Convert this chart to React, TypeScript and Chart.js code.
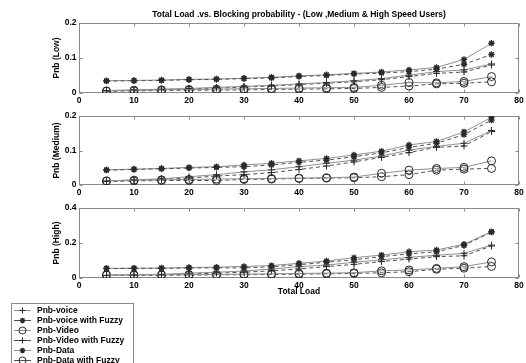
import React, { useEffect, useRef } from 'react';
import { Chart, registerables } from 'chart.js';
import { drawPoint } from 'chart.js/helpers';

Chart.register(...registerables);

// ---------- data ----------
const loads = [5, 10, 15, 20, 25, 30, 35, 40, 45, 50, 55, 60, 65, 70, 75];
const seriesNames = [
  'Pnb-voice',
  'Pnb-voice with Fuzzy',
  'Pnb-Video',
  'Pnb-Video with Fuzzy',
  'Pnb-Data',
  'Pnb-Data with Fuzzy',
];
const chartTitle = 'Total Load .vs. Blocking probability - (Low ,Medium & High Speed Users)';
const xTitle = 'Total Load';
const panelTitles = ['Pnb (Low)', 'Pnb (Medium)', 'Pnb (High)'];
const panelYMax = [0.2, 0.2, 0.4];
const panelYStep = [0.1, 0.1, 0.2];

// Low speed users
const lowVoice = [0.007, 0.009, 0.011, 0.013, 0.016, 0.019, 0.022, 0.026, 0.030, 0.035, 0.041, 0.051, 0.061, 0.066, 0.083];
const lowVoiceFuzzy = [0.034, 0.035, 0.036, 0.038, 0.039, 0.041, 0.043, 0.047, 0.050, 0.054, 0.057, 0.061, 0.068, 0.082, 0.110];
const lowVideo = [0.006, 0.008, 0.009, 0.010, 0.011, 0.012, 0.013, 0.014, 0.015, 0.016, 0.022, 0.030, 0.029, 0.033, 0.047];
const lowVideoFuzzy = [0.006, 0.008, 0.010, 0.012, 0.014, 0.017, 0.020, 0.024, 0.028, 0.032, 0.038, 0.047, 0.056, 0.060, 0.080];
const lowData = [0.035, 0.036, 0.037, 0.039, 0.040, 0.042, 0.045, 0.049, 0.052, 0.056, 0.060, 0.066, 0.073, 0.096, 0.142];
const lowDataFuzzy = [0.005, 0.006, 0.007, 0.008, 0.008, 0.009, 0.010, 0.011, 0.012, 0.013, 0.016, 0.020, 0.026, 0.028, 0.032];

// Medium speed users
const medVoice = [0.012, 0.015, 0.018, 0.024, 0.030, 0.038, 0.044, 0.053, 0.063, 0.072, 0.084, 0.101, 0.112, 0.121, 0.158];
const medVoiceFuzzy = [0.043, 0.045, 0.047, 0.049, 0.051, 0.053, 0.058, 0.066, 0.072, 0.082, 0.093, 0.109, 0.121, 0.146, 0.188];
const medVideo = [0.012, 0.014, 0.015, 0.016, 0.017, 0.018, 0.019, 0.020, 0.021, 0.023, 0.034, 0.043, 0.048, 0.051, 0.070];
const medVideoFuzzy = [0.010, 0.013, 0.016, 0.020, 0.026, 0.030, 0.036, 0.045, 0.055, 0.067, 0.080, 0.094, 0.109, 0.113, 0.155];
const medData = [0.044, 0.046, 0.048, 0.051, 0.053, 0.058, 0.063, 0.070, 0.077, 0.087, 0.098, 0.116, 0.126, 0.154, 0.196];
const medDataFuzzy = [0.011, 0.012, 0.013, 0.013, 0.013, 0.016, 0.017, 0.019, 0.020, 0.021, 0.024, 0.030, 0.043, 0.046, 0.048];

// High speed users
const highVoice = [0.015, 0.018, 0.021, 0.028, 0.033, 0.040, 0.051, 0.065, 0.074, 0.090, 0.104, 0.118, 0.130, 0.141, 0.188];
const highVoiceFuzzy = [0.054, 0.055, 0.055, 0.057, 0.058, 0.058, 0.064, 0.076, 0.090, 0.104, 0.122, 0.138, 0.150, 0.186, 0.262];
const highVideo = [0.018, 0.018, 0.019, 0.019, 0.020, 0.022, 0.024, 0.026, 0.028, 0.030, 0.041, 0.046, 0.055, 0.065, 0.092];
const highVideoFuzzy = [0.014, 0.016, 0.018, 0.022, 0.028, 0.033, 0.041, 0.052, 0.065, 0.078, 0.094, 0.108, 0.122, 0.127, 0.183];
const highData = [0.055, 0.056, 0.057, 0.060, 0.062, 0.066, 0.071, 0.084, 0.097, 0.116, 0.131, 0.150, 0.160, 0.193, 0.265];
const highDataFuzzy = [0.016, 0.016, 0.016, 0.017, 0.018, 0.019, 0.020, 0.022, 0.024, 0.026, 0.030, 0.036, 0.050, 0.056, 0.066];

const panels = [
  [lowVoice, lowVoiceFuzzy, lowVideo, lowVideoFuzzy, lowData, lowDataFuzzy],
  [medVoice, medVoiceFuzzy, medVideo, medVideoFuzzy, medData, medDataFuzzy],
  [highVoice, highVoiceFuzzy, highVideo, highVideoFuzzy, highData, highDataFuzzy],
];

// ---------- styles ----------
const FONT = '"Liberation Sans", Arial, Helvetica, sans-serif';
const FS = 8.5;
const TEXT = '#000000';
const FRAME = '#8a8a8a';
const SOLID = '#8f8f8f';
const DASHED = '#505050';
const MARK = '#2a2a2a';

const seriesStyles = [
  { pointStyle: 'cross', dash: [] as number[], line: SOLID, radius: 3.5, bw: 1 },
  { pointStyle: 'star', dash: [4, 3], line: DASHED, radius: 3.2, bw: 1.4 },
  { pointStyle: 'circle', dash: [] as number[], line: SOLID, radius: 4, bw: 1 },
  { pointStyle: 'cross', dash: [4, 3], line: DASHED, radius: 3.5, bw: 1 },
  { pointStyle: 'star', dash: [] as number[], line: SOLID, radius: 3.2, bw: 1.4 },
  { pointStyle: 'circle', dash: [4, 3], line: DASHED, radius: 4, bw: 1 },
];

// layout (chart area per panel on the 526x363 canvas)
const panelLayout = [
  { top: 0, bottom: 257, xHeight: 13 },
  { top: 116, bottom: 165, xHeight: 13 },
  { top: 208, bottom: 65, xHeight: 20 },
];

const frameTicks = {
  id: 'frameTicks',
  beforeDatasetsDraw(chart: any) {
    const { ctx, chartArea: a, scales } = chart;
    const x = scales.x;
    const y = scales.y;
    ctx.save();
    ctx.strokeStyle = FRAME;
    ctx.lineWidth = 1;
    const l = Math.round(a.left) + 0.5;
    const r = Math.round(a.right) - 0.5;
    const t = Math.round(a.top) + 0.5;
    const b = Math.round(a.bottom) - 0.5;
    ctx.strokeRect(l, t, r - l, b - t);
    const len = 3;
    ctx.beginPath();
    x.ticks.forEach((tk: any) => {
      const px = Math.round(x.getPixelForValue(tk.value)) + 0.5;
      ctx.moveTo(px, b);
      ctx.lineTo(px, b - len);
      ctx.moveTo(px, t);
      ctx.lineTo(px, t + len);
    });
    y.ticks.forEach((tk: any) => {
      const py = Math.round(y.getPixelForValue(tk.value)) + 0.5;
      ctx.moveTo(l, py);
      ctx.lineTo(l + len, py);
      ctx.moveTo(r, py);
      ctx.lineTo(r - len, py);
    });
    ctx.stroke();
    ctx.restore();
  },
};

const legendBox = {
  id: 'legendBox',
  afterDraw(chart: any, _args: any, opts: any) {
    if (!opts || !opts.show) return;
    const { ctx } = chart;
    const { left, top, width, rowH } = opts;
    ctx.save();
    ctx.strokeStyle = FRAME;
    ctx.lineWidth = 1;
    ctx.strokeRect(left + 0.5, top + 0.5, width, rowH * 6 + 12);
    ctx.font = `bold ${FS}px ${FONT}`;
    ctx.textBaseline = 'middle';
    ctx.textAlign = 'left';
    chart.data.datasets.forEach((ds: any, i: number) => {
      const yy = top + 7.5 + i * rowH;
      ctx.strokeStyle = ds.borderColor;
      ctx.lineWidth = 1;
      ctx.setLineDash([]);
      ctx.beginPath();
      ctx.moveTo(left + 3, yy);
      ctx.lineTo(left + 20, yy);
      ctx.stroke();
      ctx.strokeStyle = ds.pointBorderColor;
      ctx.fillStyle = ds.pointBackgroundColor;
      ctx.lineWidth = ds.pointBorderWidth;
      drawPoint(ctx, { pointStyle: ds.pointStyle, rotation: 0, radius: ds.pointRadius - 0.5, borderWidth: ds.pointBorderWidth } as any, left + 11.5, yy);
      ctx.fillStyle = TEXT;
      ctx.fillText(ds.label, left + 26, yy + 0.5);
    });
    ctx.restore();
  },
};

function makeConfig(p: number): any {
  const lay = panelLayout[p];
  const datasets = panels[p].map((vals, i) => {
    const st = seriesStyles[i];
    return {
      label: seriesNames[i],
      data: loads.map((x, k) => ({ x, y: vals[k] })),
      borderColor: st.line,
      borderWidth: 1,
      borderDash: st.dash,
      pointStyle: st.pointStyle,
      pointRadius: st.radius,
      pointBorderColor: MARK,
      pointBorderWidth: st.bw,
      pointBackgroundColor: 'rgba(0,0,0,0)',
      tension: 0,
      fill: false,
    };
  });
  const tickFont = { size: FS, weight: 'bold', family: FONT };
  return {
    type: 'line',
    data: { datasets },
    plugins: [frameTicks, legendBox],
    options: {
      responsive: false,
      animation: false,
      events: [],
      layout: { padding: { left: 0, right: 7, top: lay.top, bottom: lay.bottom } },
      plugins: {
        legend: { display: false },
        tooltip: { enabled: false },
        title: {
          display: p === 0,
          text: chartTitle,
          color: TEXT,
          font: tickFont,
          padding: { top: 10, bottom: 2.8 },
          fullSize: false,
        },
        legendBox: { show: p === 2, left: 11, top: 303, width: 122, rowH: 10 },
      },
      scales: {
        x: {
          type: 'linear',
          min: 0,
          max: 80,
          grid: { display: false, drawTicks: false },
          border: { display: false },
          ticks: {
            stepSize: 10,
            padding: 3,
            maxRotation: 0,
            color: TEXT,
            font: tickFont,
          },
          title: {
            display: p === 2,
            text: xTitle,
            color: TEXT,
            font: tickFont,
            padding: { top: 0, bottom: 1 },
          },
          afterFit: (s: any) => {
            s.height = lay.xHeight;
            s.paddingLeft = 0;
            s.paddingRight = 0;
          },
        },
        y: {
          type: 'linear',
          min: 0,
          max: panelYMax[p],
          grid: { display: false, drawTicks: false },
          border: { display: false },
          ticks: {
            stepSize: panelYStep[p],
            padding: 2.5,
            color: TEXT,
            font: tickFont,
            callback: (v: number) => String(Math.round(v * 10) / 10),
          },
          title: {
            display: true,
            text: panelTitles[p],
            color: TEXT,
            font: tickFont,
            padding: { top: 52, bottom: 0 },
          },
          afterFit: (s: any) => {
            s.width = 79;
            s.paddingTop = 0;
            s.paddingBottom = 0;
          },
        },
      },
    },
  };
}

function Panel({ index }: { index: number }) {
  const ref = useRef<HTMLCanvasElement | null>(null);
  useEffect(() => {
    if (!ref.current) return;
    const chart = new Chart(ref.current, makeConfig(index));
    return () => chart.destroy();
  }, [index]);
  return (
    <canvas
      ref={ref}
      width={526}
      height={363}
      style={{ position: 'absolute', left: 0, top: 0, width: 526, height: 363 }}
    />
  );
}

export default function App() {
  return (
    <div
      style={{
        position: 'absolute',
        left: 0,
        top: 0,
        width: 526,
        height: 363,
        background: '#ffffff',
        overflow: 'hidden',
      }}
    >
      <Panel index={0} />
      <Panel index={1} />
      <Panel index={2} />
    </div>
  );
}
